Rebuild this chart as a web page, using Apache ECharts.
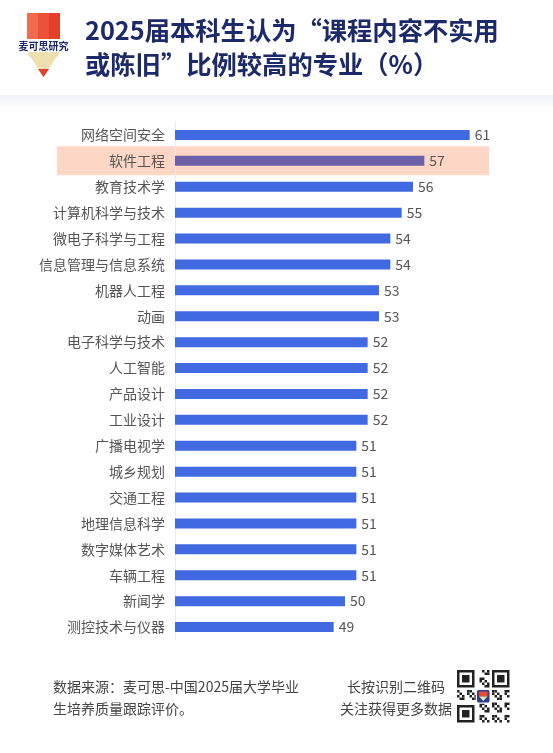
<!DOCTYPE html>
<html>
<head>
<meta charset="utf-8">
<script src="https://cdn.jsdelivr.net/npm/echarts@6/dist/echarts.min.js"></script>
<style>
html,body{margin:0;padding:0;background:#fff;}
#main{width:553px;height:753px;}
</style>
</head>
<body>
<div id="main"></div>
<script>
var categories = ['网络空间安全','软件工程','教育技术学','计算机科学与技术','微电子科学与工程','信息管理与信息系统','机器人工程','动画','电子科学与技术','人工智能','产品设计','工业设计','广播电视学','城乡规划','交通工程','地理信息科学','数字媒体艺术','车辆工程','新闻学','测控技术与仪器'];
var values = [61,57,56,55,54,54,53,53,52,52,52,52,51,51,51,51,51,51,50,49];
var highlightCategory = '软件工程';
var titleLines = ['2025届本科生认为“课程内容不实用', '或陈旧”比例较高的专业（%）'];
var sourceLines = ['数据来源：麦可思-中国2025届大学毕业', '生培养质量跟踪评价。'];
var qrLines = ['长按识别二维码', '关注获得更多数据'];

var FONT = '"Noto Sans CJK SC", "Noto Sans", sans-serif';
var chart = echarts.init(document.getElementById('main'), null, {renderer: 'canvas'});

var barData = values.map(function (v, i) {
  return {
    value: v,
    itemStyle: {color: categories[i] === highlightCategory ? '#6C60A9' : '#4169E1'}
  };
});

chart.setOption({
  backgroundColor: '#ffffff',
  animation: false,
  title: {
    text: titleLines.join('\n'),
    left: 85, top: 13, padding: 0,
    textStyle: {fontFamily: FONT, fontSize: 25.3, fontWeight: 'bold', color: '#1C2A6A', lineHeight: 34}
  },
  grid: {left: 175, top: 122, width: 340, height: 518, containLabel: false},
  xAxis: {
    type: 'value', min: 35, max: 65, show: false
  },
  yAxis: {
    type: 'category', data: categories, inverse: true,
    axisTick: {show: false},
    axisLine: {show: true, lineStyle: {color: '#EBEBEB', width: 1}},
    axisLabel: {fontFamily: FONT, fontSize: 14, color: '#555', margin: 10}
  },
  series: [{
    type: 'bar', data: barData, barWidth: 10, z: 5,
    label: {show: true, position: 'right', distance: 5, fontFamily: FONT, fontSize: 14, color: '#555'}
  }]
});

// compute highlight band from the category scale
var hiIdx = categories.indexOf(highlightCategory);
var hiY = chart.convertToPixel({yAxisIndex: 0}, categories[hiIdx]);

// QR-like decoration
var qr = [];
var qx = 457, qy = 670, cell = 2.5, n = 21;
function finder(x, y) {
  qr.push({type: 'rect', shape: {x: qx + x*cell, y: qy + y*cell, width: 7*cell, height: 7*cell}, style: {fill: '#222'}});
  qr.push({type: 'rect', shape: {x: qx + (x+1)*cell, y: qy + (y+1)*cell, width: 5*cell, height: 5*cell}, style: {fill: '#fff'}});
  qr.push({type: 'rect', shape: {x: qx + (x+2)*cell, y: qy + (y+2)*cell, width: 3*cell, height: 3*cell}, style: {fill: '#222'}});
}
for (var i = 0; i < n; i++) {
  for (var j = 0; j < n; j++) {
    if ((i < 8 && j < 8) || (i < 8 && j > 12) || (i > 12 && j < 8)) continue;
    if (((i * 7 + j * 13 + i * j) % 5) < 2) {
      qr.push({type: 'rect', shape: {x: qx + j*cell, y: qy + i*cell, width: cell, height: cell}, style: {fill: '#222'}});
    }
  }
}
finder(0, 0); finder(14, 0); finder(0, 14);
qr.push({type: 'rect', shape: {x: qx + 7.5*cell, y: qy + 7.5*cell, width: 6*cell, height: 6*cell}, style: {fill: '#fff'}});
qr.push({type: 'rect', shape: {x: qx + 8*cell, y: qy + 8*cell, width: 5*cell, height: 5*cell, r: 1.5}, style: {fill: '#2B3F8F'}});
qr.push({type: 'rect', shape: {x: qx + 8.8*cell, y: qy + 8.6*cell, width: 3.4*cell, height: 2*cell}, style: {fill: '#E84A33'}});
qr.push({type: 'polygon', shape: {points: [[qx + 8.8*cell, qy + 10.6*cell], [qx + 12.2*cell, qy + 10.6*cell], [qx + 10.5*cell, qy + 12.4*cell]]}, style: {fill: '#EEDFAF'}});

chart.setOption({
  graphic: [
    // header band
    {type: 'rect', z: 0, shape: {x: 0, y: 95, width: 553, height: 14},
      style: {fill: new echarts.graphic.LinearGradient(0, 0, 0, 1, [{offset: 0, color: '#F1F2F9'}, {offset: 1, color: '#FFFFFF'}])}},
    // highlight band
    {type: 'rect', z: 0, shape: {x: 57, y: hiY - 14.5, width: 432, height: 29}, style: {fill: '#FDD6C5'}},
    // logo
    {type: 'rect', shape: {x: 27, y: 13, width: 11, height: 26}, style: {fill: '#F06B50'}},
    {type: 'rect', shape: {x: 38, y: 13, width: 11, height: 26}, style: {fill: '#EA5239'}},
    {type: 'rect', shape: {x: 49, y: 13, width: 11, height: 26}, style: {fill: '#E33F2D'}},
    {type: 'polygon', shape: {points: [[28, 53], [59, 53], [43.5, 77]]}, style: {fill: '#EEDFAF'}},
    {type: 'circle', shape: {cx: 33, cy: 53, r: 5}, style: {fill: '#EEDFAF'}},
    {type: 'circle', shape: {cx: 43.5, cy: 53, r: 5}, style: {fill: '#EEDFAF'}},
    {type: 'circle', shape: {cx: 54, cy: 53, r: 5}, style: {fill: '#EEDFAF'}},
    {type: 'rect', shape: {x: 20, y: 39, width: 48, height: 13}, style: {fill: '#fff'}},
    {type: 'polygon', shape: {points: [[38, 69], [49, 69], [43.5, 77]]}, style: {fill: '#E33F2D'}},
    {type: 'text', style: {x: 43.5, y: 46, text: '麦可思研究', fontFamily: FONT, fontSize: 10, fontWeight: 'bold', fill: '#1C2A6A', align: 'center', verticalAlign: 'middle'}},
    // footer
    {type: 'text', style: {x: 53, y: 687, text: sourceLines[0], fontFamily: FONT, fontSize: 14, fill: '#444', verticalAlign: 'middle'}},
    {type: 'text', style: {x: 53, y: 709, text: sourceLines[1], fontFamily: FONT, fontSize: 14, fill: '#444', verticalAlign: 'middle'}},
    {type: 'text', style: {x: 396, y: 687, text: qrLines[0], fontFamily: FONT, fontSize: 14, fill: '#444', align: 'center', verticalAlign: 'middle'}},
    {type: 'text', style: {x: 396, y: 709, text: qrLines[1], fontFamily: FONT, fontSize: 14, fill: '#444', align: 'center', verticalAlign: 'middle'}},
    {type: 'group', children: qr}
  ]
});
</script>
</body>
</html>
